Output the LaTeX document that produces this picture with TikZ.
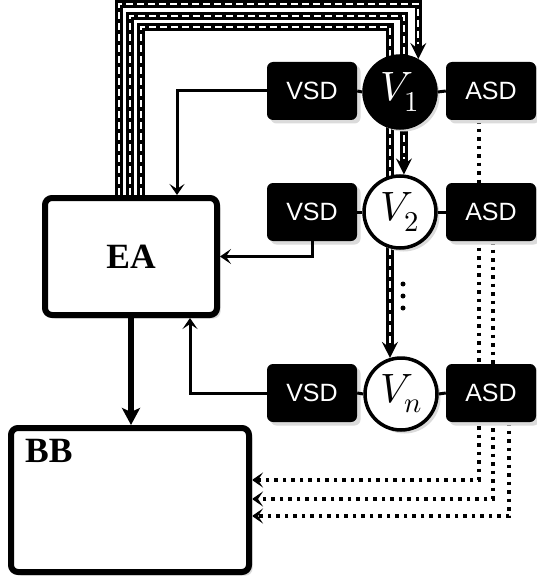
\documentclass[tikz,border=0pt]{standalone}
\usepackage{fontspec}
\usepackage{unicode-math}
\setmathfont{Latin Modern Math}
\newfontfamily\sansf{Liberation Sans}
\newfontfamily\seriff{Liberation Serif}
\usetikzlibrary{arrows.meta,shadows,calc}
\pgfdeclarelayer{back}
\pgfdeclarelayer{bg}
\pgfsetlayers{back,bg,main}
\begin{document}
\begin{tikzpicture}[x=1pt,y=-1pt,
  shad/.style={drop shadow={shadow xshift=3.5pt,shadow yshift=-3.5pt,fill=black!14,opacity=1}},
  bigbox/.style={draw,line width=6pt,rounded corners=7pt,fill=white,shad},
  sdbox/.style={fill=black,rounded corners=6pt,minimum width=90pt,minimum height=58pt,inner sep=0pt,text=white,font=\sansf\fontsize{25}{28}\selectfont,shad},
  vcirc/.style={circle,draw,line width=3.5pt,minimum size=72pt,inner sep=0pt,font=\fontsize{41}{44}\selectfont,shad},
  conn/.style={line width=3pt},
  thinarrow/.style={conn,-{Stealth[length=11pt,width=15pt,inset=5pt]}},
  railbase/.style={line width=7.5pt,-{Stealth[length=16pt,width=16pt,inset=6pt]}},
  railtop/.style={white,line width=2.2pt,dash pattern=on 7pt off 4pt,shorten >=15pt},
  dotline/.style={line width=3.4pt,dash pattern=on 3.4pt off 5.1pt,-{Stealth[length=11pt,width=15pt,inset=5pt]}},
  bigfont/.style={font=\seriff\bfseries\fontsize{35.5}{38}\selectfont}
]
\begin{pgfonlayer}{back}
\fill[white] (0,0) rectangle (537,583);
\end{pgfonlayer}
\useasboundingbox (0,0) rectangle (537,583);

% main boxes
\node[bigbox,minimum width=172pt,minimum height=117pt,bigfont] (EA) at (131,256.5) {EA};
\node[bigbox,minimum width=238pt,minimum height=144pt] (BB) at (130,500) {};
\node[bigfont,anchor=base west,inner sep=0pt] (BBl) at (25,462) {BB};

% valves
\node[vcirc,fill=black,text=white] (V1) at (400,92) {$V_1$};
\node[vcirc,fill=white] (V2) at (400,212) {$V_2$};
\node[vcirc,fill=white] (Vn) at (401,394) {$V_n$};

\node[sdbox] (VSD1) at (312,91) {VSD};
\node[sdbox] (VSD2) at (312,212) {VSD};
\node[sdbox] (VSDn) at (312,393) {VSD};
\node[sdbox] (ASD1) at (491,91) {ASD};
\node[sdbox] (ASD2) at (491,212) {ASD};
\node[sdbox] (ASDn) at (491,393) {ASD};

% vertical dots
\node[circle,fill=black,inner sep=0pt,minimum size=5pt] (d1) at (403,284) {};
\node[circle,fill=black,inner sep=0pt,minimum size=5pt] (d2) at (403,296) {};
\node[circle,fill=black,inner sep=0pt,minimum size=5pt] (d3) at (403,308) {};

\coordinate (tA) at (200,4);
\coordinate (tB) at (200,16);
\coordinate (tC) at (200,27);

\begin{pgfonlayer}{bg}
  % rail-style lines from EA to valves
  \draw[railbase] ($(EA.north)+(-12,0)$) |- (tA) -| (V1.61);
  \draw[railtop]  ($(EA.north)+(-12,0)$) |- (tA) -| (V1.61);
  \draw[railbase] ($(EA.north)+(-1,0)$) |- (tB) -| (V2.84);
  \draw[railtop]  ($(EA.north)+(-1,0)$) |- (tB) -| (V2.84);
  \draw[railbase] ($(EA.north)+(10,0)$) |- (tC) -| (Vn.107);
  \draw[railtop]  ($(EA.north)+(10,0)$) |- (tC) -| (Vn.107);
  % dotted lines from ASD to BB
  \draw[dotline] ($(ASD1.south)+(-12,0)$) |- ($(BB.east)+(0,-20)$);
  \draw[dotline] ($(ASD2.south)+(2,0)$) |- ($(BB.east)+(0,-1)$);
  \draw[dotline] ($(ASDn.south)+(18,0)$) |- ($(BB.east)+(0,16)$);
\end{pgfonlayer}

% short links
\draw[conn] (VSD1.east) -- (V1.west);
\draw[conn] (V1.east) -- (ASD1.west);
\draw[conn] (VSD2.east) -- (V2.west);
\draw[conn] (V2.east) -- (ASD2.west);
\draw[conn] (VSDn.east) -- (Vn.west);
\draw[conn] (Vn.east) -- (ASDn.west);

% VSD feedback to EA
\draw[thinarrow] (VSD1.west) -| ($(EA.north)+(46,0)$);
\draw[thinarrow] (VSD2.south) |- (EA.east);
\draw[thinarrow] (VSDn.west) -| ($(EA.south)+(59,0)$);

% EA to BB
\draw[line width=5.5pt,-{Stealth[length=17pt,width=18pt,inset=4pt]}] (EA.south) -- (EA.south |- BB.north);
\end{tikzpicture}
\end{document}
